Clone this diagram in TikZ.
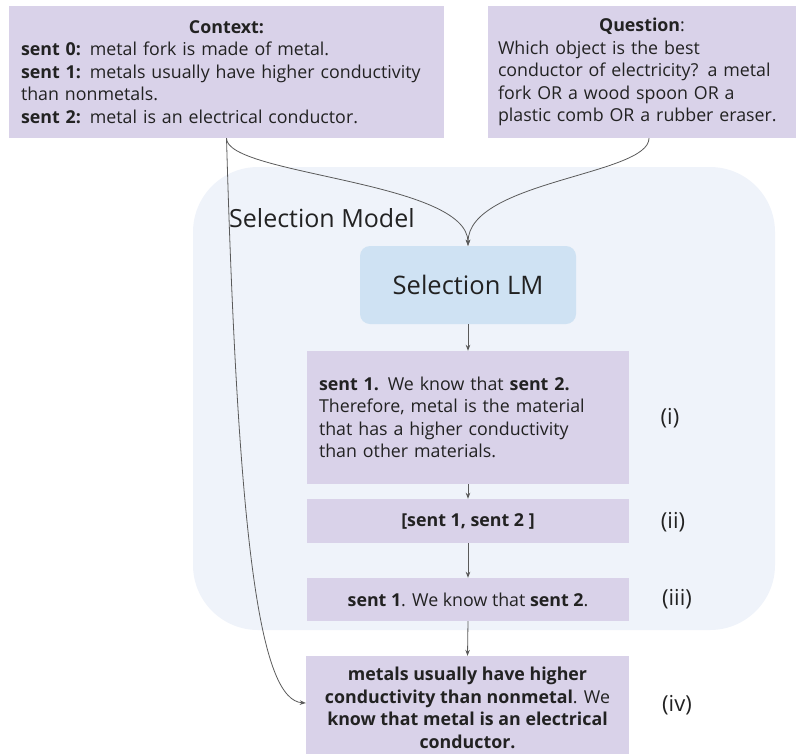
\documentclass[tikz,border=0pt]{standalone}
\usepackage{fontspec}
\setmainfont{Open Sans}
\usetikzlibrary{arrows.meta}
\definecolor{lav}{HTML}{D9D2E9}
\definecolor{lmblue}{HTML}{CFE2F3}
\definecolor{bgblue}{HTML}{EFF3FA}
\definecolor{txt}{HTML}{222222}
\definecolor{wire}{HTML}{5A5A5A}
\tikzset{
  box/.style={fill=lav, draw=none, inner sep=0pt, text=txt},
  body/.style={font=\fontsize{17.8}{22.5}\selectfont},
  lbl/.style={font=\fontsize{22}{26}\selectfont, text=txt, inner sep=0pt},
  big/.style={font=\fontsize{25.5}{30}\selectfont},
  conn/.style={draw=wire, line width=0.8pt, -{Stealth[length=6pt,width=4.5pt]}},
}
\begin{document}
\begin{tikzpicture}[x=1pt,y=-1pt]
\useasboundingbox (0,0) rectangle (798,753);
% background of selection model
\node[fill=bgblue, rounded corners=65pt, minimum width=582pt, minimum height=463pt, inner sep=0pt] (selmodel) at (484,398.5) {};
\node[big, anchor=west, text=txt, inner sep=0pt, font=\fontsize{25}{30}\selectfont] (selname) at (229,218) {Selection Model};
% inputs
\node[box, body, minimum width=435pt, minimum height=132pt, text width=411pt] (ctx) at (226.5,72)
  {\centering\textbf{Context:}\par\raggedright
   \textbf{sent 0:} metal fork is made of metal.\\
   \textbf{sent 1:} metals usually have higher conductivity\\
   than nonmetals.\\
   \textbf{sent 2:} metal is an electrical conductor.\par};
\node[box, body, minimum width=308pt, minimum height=132pt, text width=288pt] (q) at (642,72)
  {\centering\textbf{Question}:\par\raggedright
   Which object is the best\\
   conductor of electricity? a metal\\
   fork OR a wood spoon OR a\\
   plastic comb OR a rubber eraser.\par};
% selection LM
\node[fill=lmblue, rounded corners=10pt, minimum width=216pt, minimum height=78pt, inner sep=0pt, text=txt, big] (lm) at (468,285) {Selection LM};
% outputs
\node[box, body, minimum width=322pt, minimum height=133pt, text width=298pt, align=left] (o1) at (468,417.5)
  {\textbf{sent 1.} We know that \textbf{sent 2.}\\
   Therefore, metal is the material\\
   that has a higher conductivity\\
   than other materials.};
\node[box, body, minimum width=322pt, minimum height=44pt] (o2) at (468,521) {\textbf{[sent 1, sent 2 ]}};
\node[box, body, minimum width=322pt, minimum height=43pt] (o3) at (468,599.5) {\textbf{sent 1}. We know that \textbf{sent 2}.};
\node[box, body, minimum width=323pt, minimum height=104pt, align=center] (o4) at (467.5,708)
  {\textbf{metals usually have higher}\\
   \textbf{conductivity than nonmetal}. We\\
   \textbf{know that metal is an electrical}\\
   \textbf{conductor.}};
% labels
\node[lbl] (l1) at (670,418) {(i)};
\node[lbl] (l2) at (673,522) {(ii)};
\node[lbl] (l3) at (677,599) {(iii)};
\node[lbl] (l4) at (677,705) {(iv)};
% connectors
\draw[conn] (lm.south) -- (o1.north);
\draw[conn] (o1.south) -- (o2.north);
\draw[conn] (o2.south) -- (o3.north);
\draw[conn] (o3.south) -- (o4.north);
\draw[conn] (ctx.south) .. controls +(0,37) and +(0,-65) .. (lm.north);
\draw[conn] ([xshift=7pt]q.south) .. controls +(0,37) and +(0,-65) .. (lm.north);
\draw[conn] (ctx.south) .. controls +(12,422) and +(-44,-3) .. ([yshift=5pt]o4.west);
\end{tikzpicture}
\end{document}
